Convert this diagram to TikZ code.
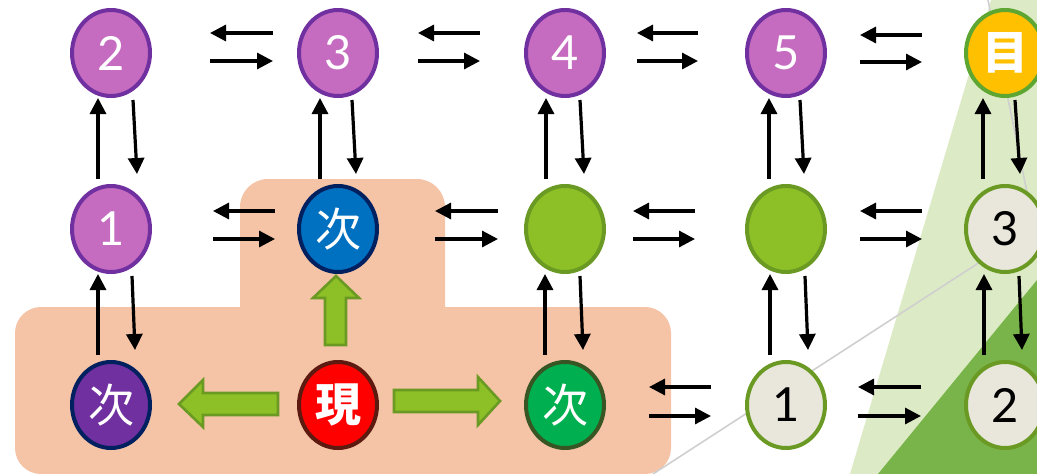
\documentclass[tikz,border=0pt]{standalone}
\usepackage{fontspec}
\setmainfont{Lato}
\newfontfamily\cjk{Noto Sans CJK JP}
\usetikzlibrary{arrows.meta,calc,shapes.geometric}
\definecolor{lgreen}{HTML}{DCEBC5}
\definecolor{dgreen}{HTML}{79B44A}
\definecolor{peach}{HTML}{F5C3A5}
\definecolor{pfill}{HTML}{C56CC0}
\definecolor{pdraw}{HTML}{7030A0}
\definecolor{navy}{HTML}{002060}
\definecolor{bfill}{HTML}{0070C0}
\definecolor{rdraw}{HTML}{5C1A10}
\definecolor{gfill}{HTML}{00B050}
\definecolor{gdraw}{HTML}{375623}
\definecolor{yg}{HTML}{8DC026}
\definecolor{ygdraw}{HTML}{6A9A23}
\definecolor{lfill}{HTML}{E9E6DC}
\definecolor{ofill}{HTML}{FFC000}
\definecolor{odraw}{HTML}{5EA632}
\definecolor{gline}{HTML}{CFCFCF}
\tikzset{
  base/.style={ellipse, minimum width=78pt, minimum height=86pt, inner sep=0pt,
    line width=4pt, font=\fontsize{47}{47}\selectfont},
  pnode/.style={base, fill=pfill, draw=pdraw, text=white},
  lnode/.style={base, fill=lfill, draw=ygdraw, text=black},
  ynode/.style={base, fill=yg, draw=ygdraw},
  jnode/.style={base, text=white, font=\cjk\fontsize{46}{46}\selectfont},
  arr/.style={line width=3.2pt, -{Triangle[length=16pt,width=16pt]}},
  blk/.style={fill=yg, draw=ygdraw, line width=2.6pt, line join=miter},
}
\newcommand\vpair[5]{%
  \draw[arr] ($(#2)+(#3,-50)$) -- ($(#1)+(#3,45)$);
  \draw[arr] ($(#1)+(#4,47)$) -- ($(#2)+(#5,-55)$);
}
\newcommand\hpair[6]{%
  \draw[arr] ($(#1)+(#4,#5)$) -- ($(#1)+(#3,#5)$);
  \draw[arr] ($(#1)+(#3,#6)$) -- ($(#1)+(#4,#6)$);
}
\begin{document}
\begin{tikzpicture}[x=1pt,y=-1pt]
\useasboundingbox (0,0) rectangle (1037,474);
\clip (0,0) rectangle (1037,474);
% backgrounds
\fill[lgreen] (850,474) -- (991,0) -- (1037,0) -- (1037,474) -- cycle;
\fill[dgreen] (878,474) -- (1037,280) -- (1037,474) -- cycle;
\fill[peach, rounded corners=28pt] (240,179) rectangle (445,340);
\fill[peach, rounded corners=26pt] (15,307) rectangle (671,474);
% thin gray lines
\coordinate (g) at (1034,227);
\coordinate (g1) at (653,474);
\coordinate (g2) at (988,0);
\draw[gline, line width=1.6pt] (g1) -- (g) -- (g2);
% nodes
\node[pnode] (p2) at (111,53) {2};
\node[pnode] (p3) at (338,53) {3};
\node[pnode] (p4) at (565,53) {4};
\node[pnode] (p5) at (786,53) {5};
\node[jnode, fill=ofill, draw=odraw, font=\cjk\bfseries\fontsize{46}{46}\selectfont] (goal) at (1005,53) {目};
\node[pnode] (p1) at (111,229) {1};
\node[jnode, fill=bfill, draw=navy] (nb) at (338,229) {次};
\node[ynode] (y3) at (565,229) {};
\node[ynode] (y4) at (786,229) {};
\node[lnode] (l3) at (1005,229) {3};
\node[jnode, fill=pdraw, draw=navy] (np) at (111,405) {次};
\node[jnode, fill=red, draw=rdraw, font=\cjk\bfseries\fontsize{46}{46}\selectfont] (cur) at (338,405) {現};
\node[jnode, fill=gfill, draw=gdraw] (ng) at (565,405) {次};
\node[lnode] (l1) at (786,405) {1};
\node[lnode] (l2) at (1005,405) {2};
% block arrows
\draw[blk] ($(cur)+(-13,-60)$) -- ($(cur)+(-13,-107)$) -- ($(cur)+(-25,-107)$) -- ($(cur)+(-2,-129)$)
  -- ($(cur)+(21,-107)$) -- ($(cur)+(8,-107)$) -- ($(cur)+(8,-60)$) -- cycle;
\draw[blk] ($(cur)+(-60,-12)$) -- ($(cur)+(-135,-12)$) -- ($(cur)+(-135,-25)$) -- ($(cur)+(-159,-1)$)
  -- ($(cur)+(-135,22)$) -- ($(cur)+(-135,10)$) -- ($(cur)+(-60,10)$) -- cycle;
\draw[blk] ($(cur)+(56,-15)$) -- ($(cur)+(140,-15)$) -- ($(cur)+(140,-28)$) -- ($(cur)+(162,-4)$)
  -- ($(cur)+(140,20)$) -- ($(cur)+(140,7)$) -- ($(cur)+(56,7)$) -- cycle;
% vertical arrow pairs
\vpair{p2}{p1}{-13}{22}{26}
\vpair{p1}{np}{-13}{21}{24}
\vpair{p3}{nb}{-18}{14}{18}
\vpair{p4}{y3}{-19}{15}{19}
\vpair{y3}{ng}{-20}{15}{18}
\vpair{p5}{y4}{-17}{14}{18}
\vpair{y4}{l1}{-16}{19}{22}
\vpair{goal}{l3}{-22}{10}{15}
\vpair{l3}{l2}{-21}{14}{17}
% horizontal arrow pairs
\hpair{p2}{p3}{99}{162}{-20}{8}
\hpair{p3}{p4}{80}{142}{-20}{8}
\hpair{p4}{p5}{72}{133}{-20}{8}
\hpair{p5}{goal}{74}{136}{-18}{9}
\hpair{p1}{nb}{102}{164}{-18}{10}
\hpair{nb}{y3}{97}{160}{-18}{10}
\hpair{y3}{y4}{68}{130}{-18}{10}
\hpair{y4}{l3}{74}{136}{-18}{10}
\hpair{ng}{l1}{84}{146}{-18}{11}
\hpair{l1}{l2}{72}{135}{-18}{11}
\end{tikzpicture}
\end{document}
